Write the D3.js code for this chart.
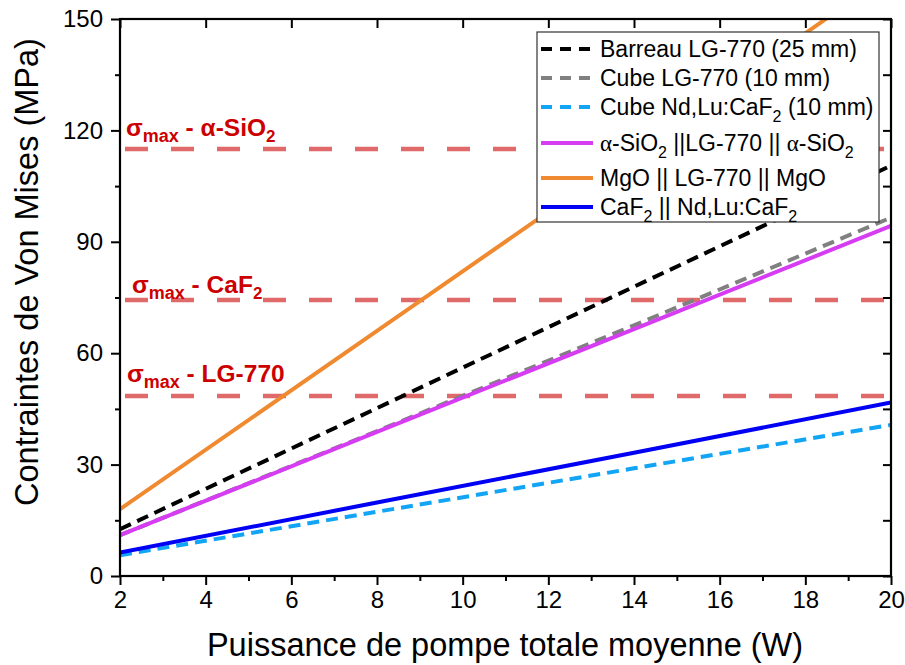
<!DOCTYPE html>
<html>
<head>
<meta charset="utf-8">
<script src="https://cdn.jsdelivr.net/npm/d3@7"></script>
<style>
  html, body { margin: 0; padding: 0; background: #fff; }
  svg { display: block; font-family: Arial, "Liberation Sans", sans-serif; }
</style>
</head>
<body>
<div id="chart"></div>
<script>
// ---------- data ----------
const powerW = [2, 8, 14, 20];
const barreauLG770 = [12.6, 45.2, 77.9, 110.5];
const cubeLG770 = [11.0, 39.0, 67.5, 96.5];
const cubeNdLuCaF2 = [5.6, 17.3, 29.0, 40.7];
const siO2LG770 = [11.0, 38.8, 66.5, 94.3];
const mgoLG770 = [18.0, 66.0, 114.1, 162.2];
const caF2NdLuCaF2 = [6.3, 19.8, 33.2, 46.7];

const sigmaMaxValues = [115.0, 74.3, 48.5];
const sigmaMaxMaterials = [
  [{t: "α-SiO"}, {t: "2", sub: true}],
  [{t: "CaF"}, {t: "2", sub: true}],
  [{t: "LG-770"}]
];

const xTickValues = [2, 4, 6, 8, 10, 12, 14, 16, 18, 20];
const yTickValues = [0, 30, 60, 90, 120, 150];
const xMinorValues = [3, 5, 7, 9, 11, 13, 15, 17, 19];
const yMinorValues = [15, 45, 75, 105, 135];

const xTitle = "Puissance de pompe totale moyenne (W)";
const yTitle = "Contraintes de Von Mises (MPa)";

const seriesNames = [
  [{t: "Barreau LG-770 (25 mm)"}],
  [{t: "Cube LG-770 (10 mm)"}],
  [{t: "Cube Nd,Lu:CaF"}, {t: "2", sub: true}, {t: " (10 mm)"}],
  [{t: "α", greek: true}, {t: "-SiO"}, {t: "2", sub: true}, {t: " ||LG-770 || "}, {t: "α", greek: true}, {t: "-SiO"}, {t: "2", sub: true}],
  [{t: "MgO || LG-770 || MgO"}],
  [{t: "CaF"}, {t: "2", sub: true}, {t: " || Nd,Lu:CaF"}, {t: "2", sub: true}]
];
const seriesValues = [barreauLG770, cubeLG770, cubeNdLuCaF2, siO2LG770, mgoLG770, caF2NdLuCaF2];

// ---------- styles ----------
const seriesStyles = [
  {color: "#000000", dash: "12,7"},
  {color: "#808080", dash: "12,7"},
  {color: "#12a4f5", dash: "12,7"},
  {color: "#d63cf2", dash: null},
  {color: "#f08a30", dash: null},
  {color: "#0000f5", dash: null}
];
const legendRowY = [49, 78, 107, 143, 178, 207];

const W = 905, H = 665;
const m = {left: 120, right: 891, top: 19, bottom: 576};

const svg = d3.select("#chart").append("svg").attr("width", W).attr("height", H);

const x = d3.scaleLinear().domain([2, 20]).range([m.left, m.right]);
const y = d3.scaleLinear().domain([0, 150]).range([m.bottom, m.top]);

svg.append("defs").append("clipPath").attr("id", "plotclip")
  .append("rect").attr("x", m.left).attr("y", m.top)
  .attr("width", m.right - m.left).attr("height", m.bottom - m.top);

// sigma max dashed lines
const redLine = "#e06a6a";
const labelRed = "#cc0000";
svg.append("g").selectAll("line").data(sigmaMaxValues).join("line")
  .attr("x1", m.left + 5).attr("x2", m.right - 7)
  .attr("y1", d => y(d)).attr("y2", d => y(d))
  .attr("stroke", redLine).attr("stroke-width", 4.5)
  .attr("stroke-dasharray", "23,23");

// series lines
const line = d3.line().x((d, i) => x(powerW[i])).y(d => y(d));
const gSeries = svg.append("g").attr("clip-path", "url(#plotclip)");
seriesValues.forEach((vals, i) => {
  gSeries.append("path").datum(vals)
    .attr("d", line)
    .attr("fill", "none")
    .attr("stroke", seriesStyles[i].color)
    .attr("stroke-width", 4)
    .attr("stroke-dasharray", seriesStyles[i].dash);
});

// rich text helper (subscripts via dy; shift restored on the next tspan)
function richText(sel, parts, subFs, subDy, startShift) {
  let shift = startShift || 0;
  parts.forEach(p => {
    const ts = sel.append("tspan").text(p.t);
    let dy = -shift;
    if (p.sub) { ts.attr("font-size", subFs); dy += subDy; shift = subDy; }
    else shift = 0;
    if (dy !== 0) ts.attr("dy", dy);
    if (p.greek) ts.attr("font-family", "'Liberation Serif', 'Times New Roman', serif");
  });
}

// sigma max labels
const labelPos = [[126, 136], [132, 293], [127, 382]];
sigmaMaxMaterials.forEach((parts, i) => {
  const t = svg.append("text")
    .attr("x", labelPos[i][0]).attr("y", labelPos[i][1])
    .attr("fill", labelRed).attr("font-weight", "bold").attr("font-size", 24.5);
  t.append("tspan").text("σ");
  t.append("tspan").attr("font-size", 18).attr("dy", 6).text("max");
  t.append("tspan").attr("dy", -6).text(" - ");
  richText(t, parts, 17, 6, 0);
});

// axes
const axisG = svg.append("g");
axisG.append("g").attr("transform", `translate(0,${m.bottom})`)
  .call(d3.axisBottom(x).tickValues(xTickValues).tickSize(9).tickPadding(6).tickFormat(d3.format("d")))
  .call(g => g.select(".domain").remove())
  .call(g => g.selectAll("line").attr("stroke-width", 2))
  .call(g => g.selectAll("text").attr("font-size", 24).attr("fill", "#000")
    .attr("font-family", "Arial, 'Liberation Sans', sans-serif"));
axisG.append("g").attr("transform", `translate(0,${m.bottom})`)
  .call(d3.axisBottom(x).tickValues(xMinorValues).tickSize(5).tickFormat(""))
  .call(g => g.select(".domain").remove())
  .call(g => g.selectAll("line").attr("stroke-width", 2));

axisG.append("g").attr("transform", `translate(${m.left},0)`)
  .call(d3.axisLeft(y).tickValues(yTickValues).tickSize(9).tickPadding(8).tickFormat(d3.format("d")))
  .call(g => g.select(".domain").remove())
  .call(g => g.selectAll("line").attr("stroke-width", 2))
  .call(g => g.selectAll("text").attr("font-size", 24).attr("fill", "#000")
    .attr("font-family", "Arial, 'Liberation Sans', sans-serif"));
axisG.append("g").attr("transform", `translate(${m.left},0)`)
  .call(d3.axisLeft(y).tickValues(yMinorValues).tickSize(5).tickFormat(""))
  .call(g => g.select(".domain").remove())
  .call(g => g.selectAll("line").attr("stroke-width", 2));

// top (inward) and right (inward) ticks
axisG.append("g").attr("transform", `translate(0,${m.top})`)
  .call(d3.axisTop(x).tickValues(xTickValues).tickSize(-9).tickFormat(""))
  .call(g => g.select(".domain").remove())
  .call(g => g.selectAll("line").attr("stroke-width", 2));
axisG.append("g").attr("transform", `translate(${m.right},0)`)
  .call(d3.axisRight(y).tickValues(yTickValues.concat(yMinorValues)).tickSize(-8).tickFormat(""))
  .call(g => g.select(".domain").remove())
  .call(g => g.selectAll("line").attr("stroke-width", 2));

// frame
svg.append("rect").attr("x", m.left).attr("y", m.top)
  .attr("width", m.right - m.left).attr("height", m.bottom - m.top)
  .attr("fill", "none").attr("stroke", "#000").attr("stroke-width", 2.2);

// axis titles
svg.append("text").attr("x", 505).attr("y", 656)
  .attr("text-anchor", "middle").attr("font-size", 32.5).attr("fill", "#000").text(xTitle);
svg.append("text").attr("transform", `translate(38,272) rotate(-90)`)
  .attr("text-anchor", "middle").attr("font-size", 32.5).attr("fill", "#000").text(yTitle);

// legend
const lg = svg.append("g");
lg.append("rect").attr("x", 537).attr("y", 32).attr("width", 342).attr("height", 190)
  .attr("fill", "#fff").attr("stroke", "#333").attr("stroke-width", 1.2);
seriesNames.forEach((parts, i) => {
  const yy = legendRowY[i];
  lg.append("line").attr("x1", 541).attr("x2", 593).attr("y1", yy).attr("y2", yy)
    .attr("stroke", seriesStyles[i].color).attr("stroke-width", 4)
    .attr("stroke-dasharray", seriesStyles[i].dash ? "11,8" : null);
  const t = lg.append("text").attr("x", 600).attr("y", yy + 8)
    .attr("font-size", 23).attr("fill", "#000");
  richText(t, parts, 16, 7, 0);
});
</script>
</body>
</html>
